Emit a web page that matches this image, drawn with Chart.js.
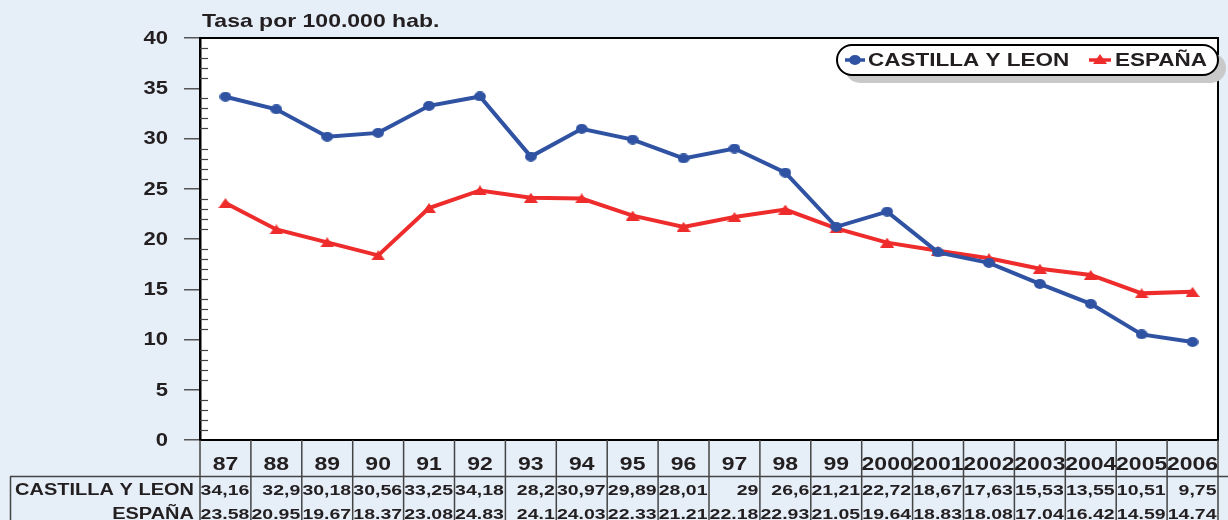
<!DOCTYPE html>
<html>
<head>
<meta charset="utf-8">
<script src="https://cdn.jsdelivr.net/npm/chart.js@4.4.1/dist/chart.umd.min.js"></script>
<style>
  html, body { margin: 0; padding: 0; background: #e6eef8; }
  #wrap { width: 1228px; height: 520px; }
</style>
</head>
<body>
<div id="wrap"><canvas id="c" width="1228" height="520"></canvas></div>
<script>
const years = ['87','88','89','90','91','92','93','94','95','96','97','98','99','2000','2001','2002','2003','2004','2005','2006'];
const cylValues = [34.16, 32.9, 30.18, 30.56, 33.25, 34.18, 28.2, 30.97, 29.89, 28.01, 29, 26.6, 21.21, 22.72, 18.67, 17.63, 15.53, 13.55, 10.51, 9.75];
const espValues = [23.58, 20.95, 19.67, 18.37, 23.08, 24.83, 24.1, 24.03, 22.33, 21.21, 22.18, 22.93, 21.05, 19.64, 18.83, 18.08, 17.04, 16.42, 14.59, 14.74];
const seriesNames = ['CASTILLA Y LEON', 'ESPAÑA'];
const titleText = 'Tasa por 100.000 hab.';
const yMin = 0, yMax = 40, yStep = 5, yMinorStep = 1;

const BLUE = '#2f53a2';
const RED = '#ee2c2c';
const BG = '#e6eef8';
const INK = '#231f20';
const FONT = '"Liberation Sans", Arial, Helvetica, sans-serif';

function sText(ctx, txt, x, y, size, align, baseline, sq) {
  ctx.save();
  ctx.font = 'bold ' + size + 'px ' + FONT;
  ctx.fillStyle = INK;
  ctx.textAlign = align;
  ctx.textBaseline = baseline || 'alphabetic';
  ctx.translate(x, y);
  ctx.scale(1, sq || 0.8);
  ctx.fillText(txt, 0, 0);
  ctx.restore();
}

function makeCircle(color) {
  const c = document.createElement('canvas');
  c.width = 12; c.height = 10;
  const g = c.getContext('2d');
  g.fillStyle = color;
  g.beginPath(); g.ellipse(6, 5, 5.9, 4.9, 0, 0, Math.PI * 2); g.fill();
  return c;
}
function makeTriangle(color) {
  const c = document.createElement('canvas');
  c.width = 14; c.height = 10;
  const g = c.getContext('2d');
  g.fillStyle = color;
  g.beginPath(); g.moveTo(7, 0); g.lineTo(14, 10); g.lineTo(0, 10); g.closePath(); g.fill();
  return c;
}
const circleImg = makeCircle(BLUE);
const triImg = makeTriangle(RED);

function pill(ctx, x, y, w, h) {
  const r = h / 2;
  ctx.beginPath();
  ctx.moveTo(x + r, y);
  ctx.lineTo(x + w - r, y);
  ctx.arc(x + w - r, y + r, r, -Math.PI / 2, Math.PI / 2);
  ctx.lineTo(x + r, y + h);
  ctx.arc(x + r, y + r, r, Math.PI / 2, Math.PI * 3 / 2);
  ctx.closePath();
}

const deco = {
  id: 'deco',
  beforeDraw(chart) {
    const ctx = chart.ctx, a = chart.chartArea;
    ctx.save();
    ctx.fillStyle = BG;
    ctx.fillRect(0, 0, chart.width, chart.height);
    ctx.fillStyle = '#ffffff';
    ctx.fillRect(a.left, a.top, a.right - a.left, a.bottom - a.top);
    ctx.restore();
  },
  afterDraw(chart) {
    const ctx = chart.ctx, a = chart.chartArea;
    const xs = chart.scales.x, ys = chart.scales.y;
    ctx.save();
    // top and right borders of plot
    ctx.strokeStyle = '#000';
    ctx.lineWidth = 2;
    ctx.beginPath();
    ctx.moveTo(a.left, a.top); ctx.lineTo(a.right, a.top); ctx.lineTo(a.right, a.bottom);
    ctx.stroke();
    // minor ticks inside plot
    ctx.strokeStyle = '#444';
    ctx.lineWidth = 1.2;
    for (let v = yMin; v <= yMax; v += yMinorStep) {
      if (v % yStep === 0) continue;
      const py = Math.round(ys.getPixelForValue(v)) + 0.5;
      ctx.beginPath(); ctx.moveTo(a.left, py); ctx.lineTo(a.left + 8, py); ctx.stroke();
    }
    // y tick labels
    ys.ticks.forEach((t, i) => {
      sText(ctx, String(t.value), 168, ys.getPixelForTick(i) + 1, 22, 'right', 'middle', 0.82);
    });
    // title
    sText(ctx, titleText, 202, 27, 23, 'left', 'alphabetic', 0.8);
    // table grid
    const half = (xs.getPixelForValue(1) - xs.getPixelForValue(0)) / 2;
    ctx.strokeStyle = '#444';
    ctx.lineWidth = 1.5;
    for (let i = 0; i <= years.length; i++) {
      const bx = (i < years.length ? xs.getPixelForValue(i) - half : xs.getPixelForValue(years.length - 1) + half);
      ctx.beginPath(); ctx.moveTo(bx, a.bottom); ctx.lineTo(bx, chart.height); ctx.stroke();
    }
    ctx.beginPath(); ctx.moveTo(10, 476.5); ctx.lineTo(chart.width, 476.5); ctx.stroke();
    ctx.beginPath(); ctx.moveTo(10.5, 476.5); ctx.lineTo(10.5, chart.height); ctx.stroke();
    // header years
    years.forEach((y, i) => sText(ctx, y, xs.getPixelForValue(i), 465, 23, 'center', 'middle', 0.8));
    // row labels
    sText(ctx, seriesNames[0], 194, 495, 20, 'right', 'alphabetic', 0.78);
    sText(ctx, seriesNames[1], 194, 519, 20, 'right', 'alphabetic', 0.78);
    cylValues.forEach((v, i) => {
      sText(ctx, String(v).replace('.', ','), xs.getPixelForValue(i) + half - 1.5, 495, 19.5, 'right', 'alphabetic', 0.78);
    });
    espValues.forEach((v, i) => {
      sText(ctx, String(v), xs.getPixelForValue(i) + half - 1.5, 519, 19.5, 'right', 'alphabetic', 0.78);
    });
    // legend pill
    const lx = 837, ly = 45, lw = 381, lh = 30;
    ctx.fillStyle = '#c9c9c9';
    pill(ctx, lx + 8, ly + 8, lw, lh); ctx.fill();
    ctx.fillStyle = '#ffffff';
    pill(ctx, lx, ly, lw, lh); ctx.fill();
    ctx.strokeStyle = '#000'; ctx.lineWidth = 2;
    pill(ctx, lx, ly, lw, lh); ctx.stroke();
    const my = ly + lh / 2;
    ctx.lineWidth = 3.5;
    ctx.strokeStyle = BLUE;
    ctx.beginPath(); ctx.moveTo(845, my); ctx.lineTo(865, my); ctx.stroke();
    ctx.drawImage(circleImg, 855 - 6, my - 5);
    sText(ctx, seriesNames[0], 868, my + 1, 22.5, 'left', 'middle', 0.82);
    ctx.strokeStyle = RED;
    ctx.beginPath(); ctx.moveTo(1089, my); ctx.lineTo(1111, my); ctx.stroke();
    ctx.drawImage(triImg, 1100 - 7, my - 6);
    sText(ctx, seriesNames[1], 1115, my + 1, 22.5, 'left', 'middle', 0.82);
    ctx.restore();
  }
};

new Chart(document.getElementById('c'), {
  type: 'line',
  data: {
    labels: years,
    datasets: [
      { label: seriesNames[0], data: cylValues, borderColor: BLUE, backgroundColor: BLUE, borderWidth: 4,
        pointStyle: circleImg, pointRadius: 6, tension: 0, fill: false },
      { label: seriesNames[1], data: espValues, borderColor: RED, backgroundColor: RED, borderWidth: 4,
        pointStyle: triImg, pointRadius: 6, tension: 0, fill: false }
    ]
  },
  options: {
    responsive: false,
    animation: false,
    devicePixelRatio: 1,
    layout: { padding: { top: 38, right: 1.5, left: 0, bottom: 0 } },
    plugins: { legend: { display: false }, tooltip: { enabled: false }, title: { display: false } },
    scales: {
      x: {
        type: 'category',
        offset: true,
        grid: { display: false },
        border: { display: true, color: '#000', width: 2 },
        ticks: { color: 'rgba(0,0,0,0)', autoSkip: false, maxRotation: 0 },
        afterFit(s) { s.height = 80; }
      },
      y: {
        min: yMin, max: yMax,
        ticks: { stepSize: yStep, color: 'rgba(0,0,0,0)' },
        grid: { display: true, drawOnChartArea: false, drawTicks: true, tickLength: 16, color: '#555', lineWidth: 1.5 },
        border: { display: true, color: '#000', width: 2.5 },
        afterFit(s) { s.width = 200; }
      }
    }
  },
  plugins: [deco]
});
</script>
</body>
</html>
